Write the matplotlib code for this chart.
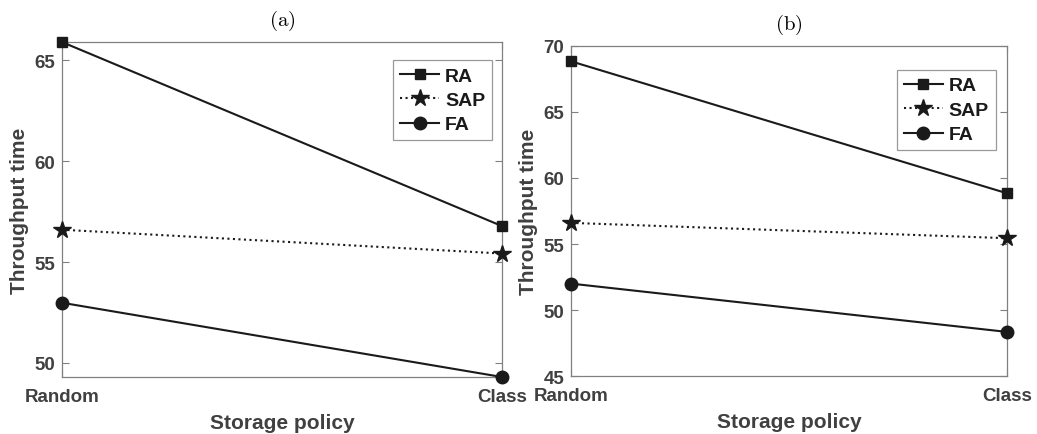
import matplotlib
matplotlib.use("Agg")
import matplotlib.pyplot as plt

categories = ["Random", "Class"]
ra_a = [65.9, 56.78]
sap_a = [56.6, 55.42]
fa_a = [52.98, 49.3]
ra_b = [68.84, 58.84]
sap_b = [56.6, 55.44]
fa_b = [52.0, 48.34]
yticks_a = [50, 55, 60, 65]
yticks_b = [45, 50, 55, 60, 65, 70]

plt.rcParams['mathtext.fontset'] = 'cm'
plt.rcParams['font.family'] = ['Liberation Sans', 'DejaVu Sans']

fig = plt.figure(figsize=(10.37, 4.35), dpi=100)
ax_a = fig.add_axes([0.0598, 0.131, 0.4243, 0.770])
ax_b = fig.add_axes([0.5506, 0.1333, 0.4205, 0.7587])

line_c = '#1a1a1a'
tick_c = '#404040'
spine_c = '#808080'

def draw(ax, ra, sap, fa, yticks, ylim, title, leg_anchor):
    x = list(range(len(categories)))
    ax.plot(x, ra, '-', color=line_c, lw=1.5, marker='s', ms=7, label='RA', clip_on=False, zorder=3)
    ax.plot(x, sap, ':', color=line_c, lw=1.5, marker='*', ms=13, label='SAP', clip_on=False, zorder=3)
    ax.plot(x, fa, '-', color=line_c, lw=1.5, marker='o', ms=9, label='FA', clip_on=False, zorder=3)
    ax.set_xlim(0, 1)
    ax.set_ylim(*ylim)
    ax.set_xticks(x)
    ax.set_xticklabels(categories)
    ax.set_yticks(yticks)
    ax.tick_params(direction='in', right=True, top=True, length=5, width=0.8,
                   colors=spine_c, labelcolor=tick_c, labelsize=13.5)
    for lbl in ax.get_xticklabels() + ax.get_yticklabels():
        lbl.set_fontweight('bold')
    ax.tick_params(axis='x', pad=8)
    ax.tick_params(axis='y', pad=5)
    for s in ax.spines.values():
        s.set_color(spine_c)
        s.set_linewidth(0.9)
    ax.set_xlabel('Storage policy', fontsize=15, fontweight='bold', color=tick_c, labelpad=6)
    ax.set_ylabel('Throughput time', fontsize=15, fontweight='bold', color=tick_c, labelpad=4)
    ax.set_title(r'$\mathrm{' + title + '}$', fontsize=15, pad=12)
    leg = ax.legend(loc='upper right', bbox_to_anchor=leg_anchor,
                    prop={'weight': 'bold', 'size': 14}, frameon=True, fancybox=False,
                    handlelength=2.0, handletextpad=0.3, borderpad=0.35, labelspacing=0.35,
                    borderaxespad=0)
    leg.get_frame().set_edgecolor(spine_c)
    leg.get_frame().set_linewidth(0.9)
    for t in leg.get_texts():
        t.set_color(line_c)

draw(ax_a, ra_a, sap_a, fa_a, yticks_a, (49.3, 65.9), '(a)', (0.977, 0.946))
draw(ax_b, ra_b, sap_b, fa_b, yticks_b, (45, 70), '(b)', (0.974, 0.927))

fig.savefig('out.png', dpi=100)
